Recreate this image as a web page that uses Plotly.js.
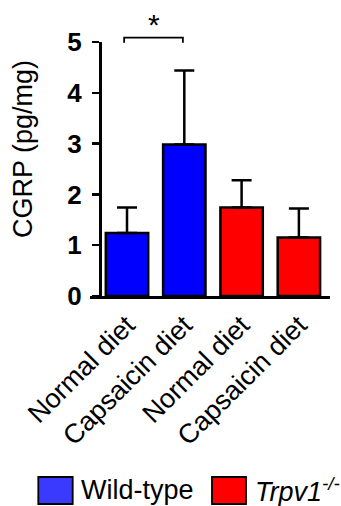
<!DOCTYPE html>
<html>
<head>
<meta charset="utf-8">
<script src="https://cdn.plot.ly/plotly-3.0.1.min.js"></script>
<style>html,body{margin:0;padding:0;background:#fff;}#chart{width:341px;height:506px;}</style>
</head>
<body>
<div id="chart"></div>
<script>
// ---- data ----
const categories = ['Normal diet', 'Capsaicin diet', 'Normal diet', 'Capsaicin diet'];
const groups = ['Wild-type', 'Trpv1-/-'];
const wtMeans = [1.24, 2.98];
const wtErrors = [0.50, 1.46];
const koMeans = [1.74, 1.15];
const koErrors = [0.54, 0.57];
const yTicks = [0, 1, 2, 3, 4, 5];
const sigLabel = '*';

const FONT = 'Liberation Sans, Arial, sans-serif';
const idx = categories.map((c, i) => i);

function barTrace(name, xs, ys, errs, color) {
  return {
    type: 'bar', name: name, x: xs, y: ys, width: 0.74,
    marker: {color: color, line: {color: '#000', width: 2.5}},
    error_y: {type: 'data', symmetric: false, array: errs, arrayminus: errs.map(() => 0),
              color: '#000', thickness: 2.5, width: 10},
    showlegend: false, hoverinfo: 'skip'
  };
}

const traces = [
  barTrace(groups[0], idx.slice(0, 2), wtMeans, wtErrors, '#0000ff'),
  barTrace(groups[1], idx.slice(2, 4), koMeans, koErrors, '#ff0000')
];

const layout = {
  width: 341, height: 506,
  margin: {l: 90, r: 11, t: 42, b: 210},
  paper_bgcolor: '#fff', plot_bgcolor: '#fff',
  showlegend: false,
  font: {family: FONT, color: '#000'},
  xaxis: {
    range: [-0.646, 3.543], tickmode: 'array', tickvals: idx, ticktext: categories,
    tickangle: -45, tickfont: {size: 27, family: FONT, color: '#000'},
    showline: true, linecolor: '#000', linewidth: 2.5, ticks: '', showgrid: false, zeroline: false,
    fixedrange: true
  },
  yaxis: {
    range: [0, 5], tickvals: yTicks, anchor: 'free', position: 0.0417,
    ticks: 'outside', ticklen: 7, tickwidth: 2.5, tickcolor: '#000',
    tickfont: {size: 26, family: FONT, color: '#000', weight: 'bold'},
    ticklabelstandoff: 5,
    showline: true, linecolor: '#000', linewidth: 2.5, showgrid: false, zeroline: false,
    fixedrange: true
  },
  shapes: [
    // significance bracket
    {type: 'path', xref: 'x', yref: 'paper',
     path: 'M -0.05 0.997 L -0.05 1.017 L 0.975 1.017 L 0.975 0.997',
     line: {color: '#000', width: 1.8}},
    // legend swatches
    {type: 'rect', xref: 'paper', yref: 'paper', x0: -0.2154, x1: -0.0721, y0: -0.8189, y1: -0.7126,
     fillcolor: '#3a3aff', line: {color: '#000', width: 1.8}},
    {type: 'rect', xref: 'paper', yref: 'paper', x0: 0.5083, x1: 0.65, y0: -0.8189, y1: -0.7126,
     fillcolor: '#ff0000', line: {color: '#000', width: 1.8}}
  ],
  annotations: [
    {text: sigLabel, xref: 'x', yref: 'paper', x: 0.4625, y: 1.07, showarrow: false,
     font: {size: 30, family: FONT, color: '#000'}, xanchor: 'center', yanchor: 'middle'},
    {text: 'CGRP (pg/mg)', xref: 'paper', yref: 'paper', x: -0.279, y: 0.5787, textangle: -90,
     showarrow: false, font: {size: 27, family: FONT, color: '#000'}, xanchor: 'center', yanchor: 'middle'},
    {text: groups[0], xref: 'paper', yref: 'paper', x: -0.045, y: -0.765, showarrow: false,
     xanchor: 'left', yanchor: 'middle', font: {size: 27, family: FONT, color: '#000'}},
    {text: '<i>Trpv1<sup>-/-</sup></i>', xref: 'paper', yref: 'paper', x: 0.68, y: -0.765, showarrow: false,
     xanchor: 'left', yanchor: 'middle', font: {size: 27, family: FONT, color: '#000'}}
  ]
};

Plotly.newPlot('chart', traces, layout, {displayModeBar: false, staticPlot: true});
</script>
</body>
</html>
